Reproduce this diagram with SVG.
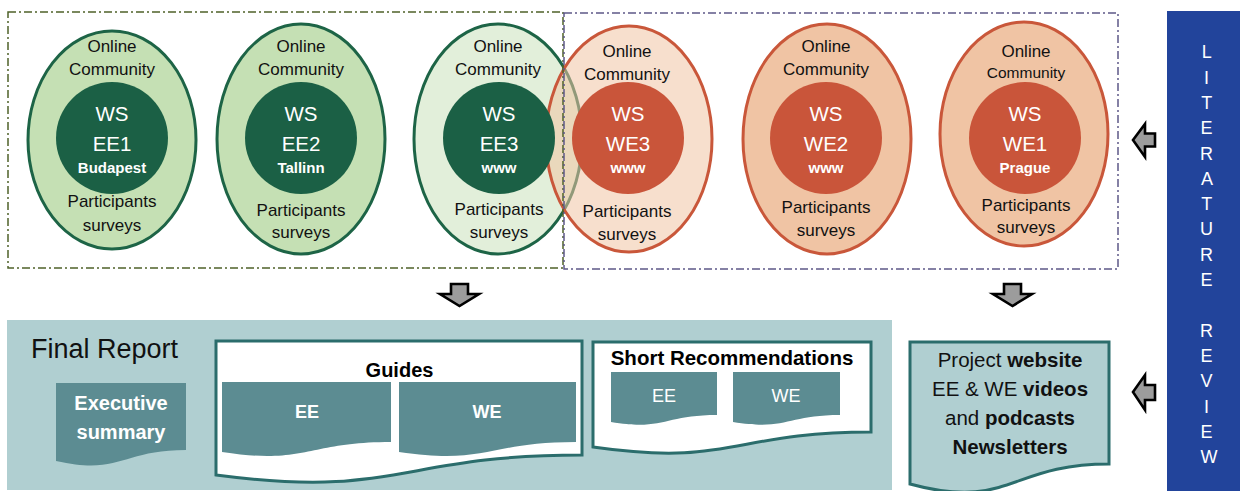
<svg xmlns="http://www.w3.org/2000/svg" width="1246" height="491" viewBox="0 0 1246 491">
  <style>
    text { font-family: "Liberation Sans", Arial, sans-serif; }
    .lbl { fill: #111; font-size: 17px; text-anchor: middle; }
    .ws { fill: #fff; font-size: 20.5px; text-anchor: middle; }
    .city { fill: #fff; font-size: 15px; font-weight: bold; text-anchor: middle; }
    .ee-out { fill: #c5e0b4; stroke: #1d6446; stroke-width: 3; }
    .ee-in { fill: #1b6045; }
    .we-out { fill: #f0c4a4; stroke: #c9573a; stroke-width: 3; }
    .we-in { fill: #c9553a; }
    .doc { fill: #5c8c92; }
    .frame { fill: #fff; stroke: #2b6d6c; stroke-width: 3; }
    .wt { fill: #fff; text-anchor: middle; }
    .arrow { fill: #9c9c9c; stroke: #000; stroke-width: 2.6; stroke-linejoin: miter; }
    .lit { fill: #fff; font-size: 18px; text-anchor: middle; }
  </style>

  <!-- East European workshops -->
  <g id="ws-ee1">
    <ellipse class="ee-out" cx="112" cy="140" rx="84" ry="109"/>
    <text class="lbl" x="112" y="52">Online</text>
    <text class="lbl" x="112" y="75">Community</text>
    <circle class="ee-in" cx="112" cy="138" r="56"/>
    <text class="ws" x="112" y="121">WS</text>
    <text class="ws" x="112" y="151">EE1</text>
    <text class="city" x="112" y="173">Budapest</text>
    <text class="lbl" x="112" y="207">Participants</text>
    <text class="lbl" x="112" y="231">surveys</text>
  </g>

  <g id="ws-ee2">
    <ellipse class="ee-out" cx="301" cy="139" rx="84" ry="115"/>
    <text class="lbl" x="301" y="52">Online</text>
    <text class="lbl" x="301" y="75">Community</text>
    <circle class="ee-in" cx="301" cy="138" r="56"/>
    <text class="ws" x="301" y="121">WS</text>
    <text class="ws" x="301" y="151">EE2</text>
    <text class="city" x="301" y="173">Tallinn</text>
    <text class="lbl" x="301" y="216">Participants</text>
    <text class="lbl" x="301" y="238">surveys</text>
  </g>

  <g id="ws-ee3">
    <ellipse class="ee-out" cx="498" cy="139" rx="84" ry="115" style="fill:#e2efda"/>
    <text class="lbl" x="498" y="52">Online</text>
    <text class="lbl" x="498" y="75">Community</text>
  </g>

  <!-- West European workshops -->
  <g id="ws-we3">
    <ellipse class="we-out" cx="629" cy="139" rx="83" ry="113" style="fill-opacity:0.55"/>
  </g>

  <!-- group frames -->
  <g id="frame-ee">
    <rect x="8" y="12" width="555" height="256" fill="none" stroke="#4f6228" stroke-width="1.5" stroke-dasharray="8 3 2 3"/>
  </g>
  <g id="frame-we">
    <rect x="564" y="13" width="554" height="256" fill="none" stroke="#5e5888" stroke-width="1.5" stroke-dasharray="8 3 2 3"/>
  </g>

  <g id="ws-ee3-core">
    <circle class="ee-in" cx="499" cy="138" r="56"/>
    <text class="ws" x="499" y="121">WS</text>
    <text class="ws" x="499" y="151">EE3</text>
    <text class="city" x="499" y="173">www</text>
    <text class="lbl" x="499" y="215">Participants</text>
    <text class="lbl" x="499" y="238">surveys</text>
  </g>

  <g id="ws-we3-core">
    <text class="lbl" x="627" y="57">Online</text>
    <text class="lbl" x="627" y="80">Community</text>
    <circle class="we-in" cx="628" cy="138" r="56"/>
    <text class="ws" x="628" y="121">WS</text>
    <text class="ws" x="628" y="151">WE3</text>
    <text class="city" x="628" y="173">www</text>
    <text class="lbl" x="627" y="217">Participants</text>
    <text class="lbl" x="627" y="240">surveys</text>
  </g>

  <g id="ws-we2">
    <ellipse class="we-out" cx="827" cy="139" rx="84" ry="115"/>
    <text class="lbl" x="826" y="52">Online</text>
    <text class="lbl" x="826" y="75">Community</text>
    <circle class="we-in" cx="826" cy="138" r="56"/>
    <text class="ws" x="826" y="121">WS</text>
    <text class="ws" x="826" y="151">WE2</text>
    <text class="city" x="826" y="173">www</text>
    <text class="lbl" x="826" y="213">Participants</text>
    <text class="lbl" x="826" y="236">surveys</text>
  </g>

  <g id="ws-we1">
    <ellipse class="we-out" cx="1024" cy="134" rx="84" ry="112"/>
    <text class="lbl" x="1026" y="57">Online</text>
    <text class="lbl" x="1026" y="78" style="font-size:15.5px">Community</text>
    <circle class="we-in" cx="1025" cy="138" r="56"/>
    <text class="ws" x="1025" y="121">WS</text>
    <text class="ws" x="1025" y="151">WE1</text>
    <text class="city" x="1025" y="173">Prague</text>
    <text class="lbl" x="1026" y="211">Participants</text>
    <text class="lbl" x="1026" y="233">surveys</text>
  </g>

  <!-- Literature review band -->
  <g id="literature-review">
    <rect x="1167" y="11" width="73" height="480" fill="#22449b"/>
    <text class="lit">
      <tspan x="1209" y="58.3">L</tspan>
      <tspan x="1209" y="83.6">I</tspan>
      <tspan x="1209" y="108.9">T</tspan>
      <tspan x="1209" y="134.2">E</tspan>
      <tspan x="1209" y="159.5">R</tspan>
      <tspan x="1209" y="184.8">A</tspan>
      <tspan x="1209" y="210.1">T</tspan>
      <tspan x="1209" y="235.4">U</tspan>
      <tspan x="1209" y="260.7">R</tspan>
      <tspan x="1209" y="286">E</tspan>
      <tspan x="1209" y="336.6">R</tspan>
      <tspan x="1209" y="361.9">E</tspan>
      <tspan x="1209" y="387.2">V</tspan>
      <tspan x="1209" y="412.5">I</tspan>
      <tspan x="1209" y="437.8">E</tspan>
      <tspan x="1209" y="463.1">W</tspan>
    </text>
  </g>

  <!-- Final report panel -->
  <g id="final-report">
    <rect x="7" y="320" width="885" height="170" fill="#b0cfd1"/>
    <text x="31" y="358" style="font-size:27px;fill:#111">Final Report</text>
  </g>

  <g id="executive-summary">
    <path class="doc" d="M56,383 H186 V450 C121,450 121,475.5 56,461 Z"/>
    <text class="wt" x="121" y="410" style="font-size:20px;font-weight:bold">Executive</text>
    <text class="wt" x="121" y="439" style="font-size:20px;font-weight:bold">summary</text>
  </g>

  <g id="guides">
    <path class="frame" d="M216,341 H582 V455 C399,455 399,499 216,475 Z"/>
    <text x="399.5" y="377" style="font-size:20px;font-weight:bold;fill:#000;text-anchor:middle">Guides</text>
    <path class="doc" d="M222,382 H391 V442 C306.5,442 306.5,465 222,452 Z"/>
    <text class="wt" x="307" y="418" style="font-size:18px;font-weight:bold">EE</text>
    <path class="doc" d="M399,382 H576 V442 C487.5,442 487.5,465 399,452 Z"/>
    <text class="wt" x="487" y="418" style="font-size:18px;font-weight:bold">WE</text>
  </g>

  <g id="short-recommendations">
    <path class="frame" d="M593,342 H871 V432 C732,432 732,467 593,447 Z"/>
    <text x="732" y="365" style="font-size:20.5px;font-weight:bold;fill:#000;text-anchor:middle">Short Recommendations</text>
    <path class="doc" d="M611,372 H717 V415 C664,415 664,431 611,422 Z"/>
    <text class="wt" x="664" y="402" style="font-size:18px">EE</text>
    <path class="doc" d="M733,372 H840 V415 C786.5,415 786.5,431 733,422 Z"/>
    <text class="wt" x="786" y="402" style="font-size:18px">WE</text>
  </g>

  <g id="dissemination">
    <path d="M910,342 H1109 V464 C1009.5,464 1009.5,511 910,484 Z" fill="#b0cfd1" stroke="#2b6d6c" stroke-width="3"/>
    <text x="1010" y="367" style="font-size:20.5px;fill:#111;text-anchor:middle">Project <tspan font-weight="bold">website</tspan></text>
    <text x="1010" y="396" style="font-size:20.5px;fill:#111;text-anchor:middle">EE &amp; WE <tspan font-weight="bold">videos</tspan></text>
    <text x="1010" y="425" style="font-size:20.5px;fill:#111;text-anchor:middle">and <tspan font-weight="bold">podcasts</tspan></text>
    <text x="1010" y="454" style="font-size:20.5px;fill:#111;text-anchor:middle;font-weight:bold">Newsletters</text>
  </g>

  <!-- block arrows -->
  <g id="connectors">
    <polygon class="arrow" points="451,284 468,284 468,294 479,294 459.5,306 440,294 451,294"/>
    <polygon class="arrow" points="1004,284 1021,284 1021,294 1032,294 1012.5,306 993,294 1004,294"/>
    <polygon class="arrow" points="1133,140 1145,124 1145,133.5 1155,133.5 1155,146.5 1145,146.5 1145,157"/>
    <polygon class="arrow" points="1133,392 1145,375 1145,385 1155,385 1155,400 1145,400 1145,410"/>
  </g>
</svg>
